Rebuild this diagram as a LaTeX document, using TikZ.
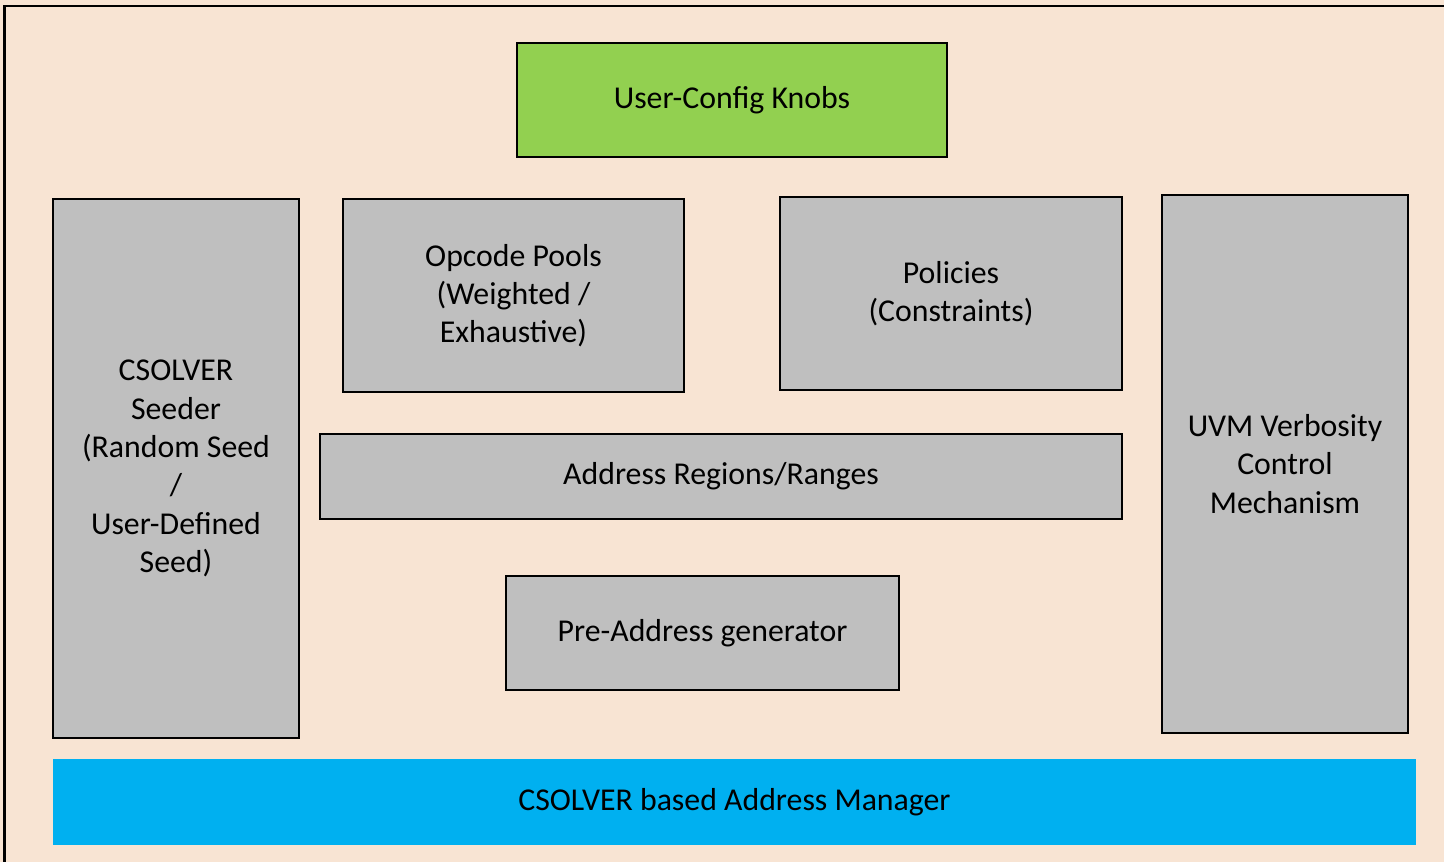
\documentclass[tikz,border=0pt]{standalone}
\usepackage{fontspec}
\setmainfont{Carlito}
\usetikzlibrary{positioning}

\definecolor{sheet}{HTML}{F8E4D3}
\definecolor{blkgray}{HTML}{BFBFBF}
\definecolor{knobgreen}{HTML}{92D050}
\definecolor{mgrblue}{HTML}{00B0F0}

\tikzset{
  blk/.style={draw=black, line width=1.5pt, fill=blkgray, align=center,
    font=\fontsize{18.1}{21.8}\selectfont, inner sep=0pt},
}

\begin{document}
\begin{tikzpicture}
  \useasboundingbox (0,0) rectangle (28.88,-17.24);
  \fill[sheet] (0,0) rectangle (28.88,-17.24);
  \draw[line width=1.7pt] (0.09,-17.4) -- (0.09,-0.12) -- (29.1,-0.12);

  \node[blk, fill=knobgreen, minimum width=8.6cm, minimum height=2.28cm] (knobs) at (14.64,-2.00) {User-Config Knobs};
  \node[blk, minimum width=4.92cm, minimum height=10.78cm] (seeder) at (3.52,-9.37) {CSOLVER\\Seeder\\(Random Seed\\/\\User-Defined\\Seed)};
  \node[blk, minimum width=6.82cm, minimum height=3.86cm] (opcode) at (10.27,-5.91) {Opcode Pools\\(Weighted /\\Exhaustive)};
  \node[blk, minimum width=6.84cm, minimum height=3.86cm] (policies) at (19.02,-5.87) {Policies\\(Constraints)};
  \node[blk, minimum width=4.92cm, minimum height=10.76cm] (uvm) at (25.70,-9.28) {UVM Verbosity\\Control\\Mechanism};
  \node[blk, minimum width=16.04cm, minimum height=1.70cm] (regions) at (14.42,-9.53) {Address Regions/Ranges};
  \node[blk, minimum width=7.86cm, minimum height=2.28cm] (preaddr) at (14.05,-12.66) {Pre-Address generator};
  \node[blk, draw=none, fill=mgrblue, minimum width=27.26cm, minimum height=1.72cm] (manager) at (14.69,-16.04) {CSOLVER based Address Manager};
\end{tikzpicture}
\end{document}
